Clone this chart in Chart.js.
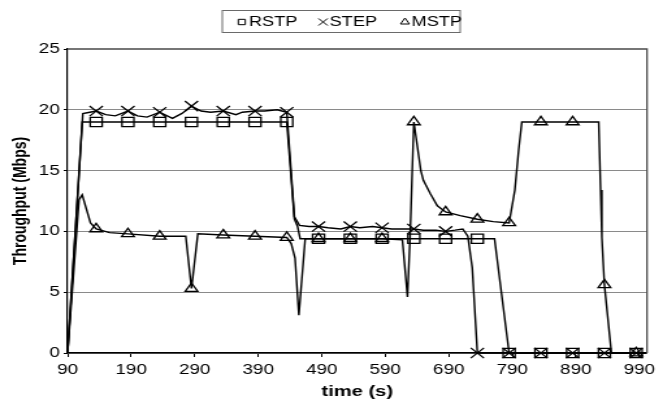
<!DOCTYPE html>
<html lang="en">
<head>
<meta charset="UTF-8">
<title>Throughput - RSTP / STEP / MSTP</title>
<script src="https://cdn.jsdelivr.net/npm/chart.js"></script>
<style>
    body { margin: 0; background: #ffffff; overflow: hidden; }
    /* the figure is drawn narrow and widened, like the original plot */
    #wrap { width: 508px; height: 404px; transform: scaleX(1.3); transform-origin: 0 0; }
</style>
</head>
<body>
<div id="wrap"><canvas id="grafico" width="508" height="404"></canvas></div>
<script>
// time axis labels and the samples that carry a marker
const xTicks = [90, 190, 290, 390, 490, 590, 690, 790, 890, 990];
const markerTimes = [135, 185, 235, 285, 335, 385, 435, 485, 535, 585, 635, 685, 735, 785, 835, 885, 935, 985];

// RSTP
const rstpTime = [90, 113, 135, 185, 235, 285, 335, 385, 435, 447, 452, 456, 485, 535, 585, 635, 685, 735, 762, 785, 835, 885, 935, 985, 1000];
const rstpMbps = [0, 19, 19, 19, 19, 19, 19, 19, 19, 11, 10.4, 9.4, 9.4, 9.4, 9.4, 9.4, 9.4, 9.4, 9.4, 0, 0, 0, 0, 0, 0];

// STEP
const stepTime = [90, 114, 125, 135, 150, 165, 185, 200, 215, 235, 255, 270, 285, 300, 315, 335, 355, 365, 385, 400, 420, 435,
                  447, 455, 470, 485, 500, 520, 535, 550, 570, 585, 600, 620, 635, 650, 670, 685, 700, 712, 720, 727, 735,
                  785, 835, 885, 935, 985, 1000];
const stepMbps = [0, 19.7, 19.8, 19.9, 19.6, 19.5, 19.9, 19.5, 19.4, 19.8, 19.3, 19.7, 20.3, 19.9, 19.8, 19.9, 19.6, 19.8, 19.9, 19.9, 20.0, 19.8,
                  11.2, 10.5, 10.4, 10.4, 10.3, 10.2, 10.4, 10.3, 10.4, 10.3, 10.2, 10.2, 10.2, 10.1, 10.1, 10.0, 10.1, 10.2, 9.6, 7.0, 0,
                  0, 0, 0, 0, 0, 0];

// MSTP
const mstpTime = [90, 108, 113, 126, 135, 156, 185, 235, 276, 285, 295, 335, 385, 435, 442, 448, 454, 464,
                  485, 535, 585, 617, 625, 629, 635, 646, 650, 661, 672, 685, 708, 735, 760, 785,
                  794, 800, 805, 835, 885, 926, 929, 931, 935, 946, 985, 1000];
const mstpMbps = [0, 12.6, 13.0, 10.7, 10.2, 9.9, 9.8, 9.6, 9.6, 5.3, 9.8, 9.7, 9.6, 9.5, 9.0, 7.8, 3.1, 9.4,
                  9.4, 9.4, 9.4, 9.3, 4.6, 9.4, 19.0, 15.0, 14.2, 13.1, 12.1, 11.6, 11.3, 11.0, 10.8, 10.7,
                  13.4, 16.7, 19.0, 19.0, 19.0, 19.0, 13.4, 9.5, 5.6, 0, 0, 0];

const FONT = "'Liberation Sans', Arial, sans-serif";

function pontos(ts, vs) {
    return ts.map((t, i) => ({ x: t, y: vs[i] }));
}

function marcador(r) {
    return ctx => (ctx.raw && markerTimes.includes(ctx.raw.x)) ? r : 0;
}

function serie(label, ts, vs, estilo, raio) {
    return {
        label: label,
        data: pontos(ts, vs),
        borderColor: '#000',
        borderWidth: 1.4,
        tension: 0,
        clip: false,
        pointStyle: estilo,
        pointRadius: marcador(raio),
        pointHoverRadius: marcador(raio),
        pointBorderColor: '#000',
        pointBackgroundColor: 'transparent',
        pointBorderWidth: 1.3
    };
}

// box around the plot (top and right sides)
const moldura = {
    id: 'moldura',
    beforeDatasetsDraw(chart) {
        const { ctx, chartArea: a } = chart;
        ctx.save();
        ctx.strokeStyle = '#4a4a4a';
        ctx.lineWidth = 1.3;
        ctx.beginPath();
        ctx.moveTo(a.left, a.top);
        ctx.lineTo(a.right, a.top);
        ctx.lineTo(a.right, a.bottom);
        ctx.stroke();
        ctx.restore();
    }
};

// legend in a framed box above the plot
const legenda = {
    id: 'legenda',
    afterDraw(chart) {
        const ctx = chart.ctx;
        const itens = [
            { x: 186, tx: 191.5, r: 3.8 },
            { x: 248.5, tx: 253.5, r: 5 },
            { x: 311.5, tx: 316.5, r: 4 }
        ];
        ctx.save();
        ctx.strokeStyle = '#6a6a6a';
        ctx.lineWidth = 1;
        ctx.strokeRect(171, 10.5, 183, 22);
        ctx.font = '14px ' + FONT;
        ctx.textBaseline = 'middle';
        chart.data.datasets.forEach((ds, i) => {
            const it = itens[i];
            ctx.strokeStyle = '#000';
            ctx.fillStyle = 'rgba(0,0,0,0)';
            Chart.helpers.drawPoint(ctx, {
                pointStyle: ds.pointStyle, radius: it.r, rotation: 0, borderWidth: 1.2
            }, it.x, 22);
            ctx.fillStyle = '#000';
            ctx.fillText(ds.label, it.tx, 22);
        });
        ctx.restore();
    }
};

new Chart(document.getElementById('grafico'), {
    type: 'line',
    data: {
        datasets: [
            serie('RSTP', rstpTime, rstpMbps, 'rect', 6.5),
            serie('STEP', stepTime, stepMbps, 'crossRot', 7.2),
            serie('MSTP', mstpTime, mstpMbps, 'triangle', 5.6)
        ]
    },
    options: {
        responsive: false,
        animation: false,
        events: [],
        layout: { padding: { top: 49, right: 7, bottom: 0, left: 0 } },
        plugins: {
            legend: { display: false },
            tooltip: { enabled: false }
        },
        scales: {
            x: {
                type: 'linear',
                min: 90,
                max: 1002,
                afterBuildTicks: s => { s.ticks = xTicks.map(v => ({ value: v })); },
                afterFit: s => { s.height = 51; },
                ticks: { font: { family: FONT, size: 14.5 }, color: '#000', padding: 4, maxRotation: 0, autoSkip: false },
                grid: { drawOnChartArea: false, tickLength: 4, tickColor: '#000' },
                border: { color: '#000', width: 1.5 },
                title: {
                    display: true, text: 'time (s)', color: '#000',
                    font: { family: FONT, size: 15.5, weight: 'bold' },
                    padding: { top: 0, bottom: 3 }
                }
            },
            y: {
                min: 0,
                max: 25,
                afterFit: s => { s.width = 52; },
                ticks: { stepSize: 5, font: { family: FONT, size: 14.5 }, color: '#000', padding: 3 },
                grid: {
                    color: ctx => (ctx.tick && ctx.tick.value === 25) ? 'transparent' : '#8a8a8a',
                    lineWidth: 1, tickLength: 3, tickColor: '#000'
                },
                border: { color: '#000', width: 1.2 },
                title: {
                    display: true, text: 'Throughput (Mbps)', color: '#000',
                    font: { family: FONT, size: 14, weight: 'bold' },
                    padding: { top: 8, bottom: 0 }
                }
            }
        }
    },
    plugins: [moldura, legenda]
});
</script>
</body>
</html>
